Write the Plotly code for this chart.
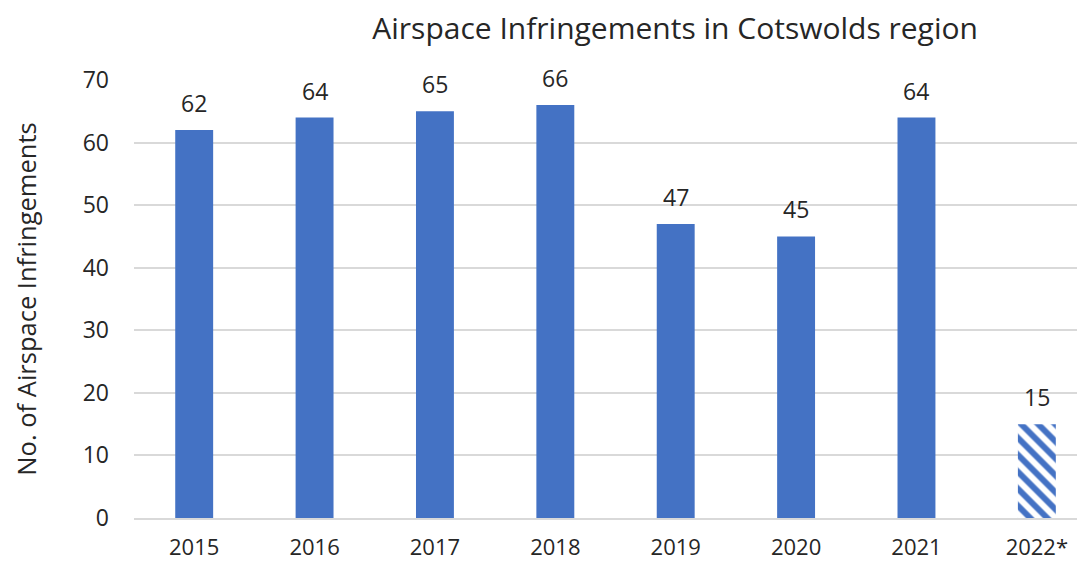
import plotly.graph_objects as go

years = ["2015", "2016", "2017", "2018", "2019", "2020", "2021", "2022*"]
infringements = [62, 64, 65, 66, 47, 45, 64, 15]
y_ticks = [0, 10, 20, 30, 40, 50, 60, 70]

BLUE = "#4472C4"
TEXT = "#262626"
FONT = "Open Sans, Liberation Sans, sans-serif"

# last year is partial -> hatched bar
shapes = ["" if y != "2022*" else "\\" for y in years]

fig = go.Figure(
    go.Bar(
        x=years,
        y=infringements,
        width=0.315,
        marker=dict(
            color=BLUE,
            line=dict(width=0),
            pattern=dict(shape=shapes, fgcolor=BLUE, bgcolor="white",
                         fgopacity=1, size=12, solidity=0.5,
                         fillmode="replace"),
        ),
        hoverinfo="x+y",
    )
)

# value labels above the bars (x as category index)
for i, val in enumerate(infringements):
    fig.add_annotation(
        x=i, y=val, text=str(val), showarrow=False,
        yanchor="bottom", yshift=9,
        font=dict(size=23, color=TEXT, family=FONT),
    )

# page body has an 8px margin, so the figure is 8px smaller than the window
fig.update_layout(
    width=1077,
    height=557,
    margin=dict(l=126, r=0, t=72, b=47),
    paper_bgcolor="white",
    plot_bgcolor="white",
    showlegend=False,
    font=dict(family=FONT, color=TEXT),
    title=dict(
        text="Airspace Infringements in Cotswolds region",
        x=0.569, xanchor="center", xref="paper",
        y=0.964, yanchor="middle", yref="container",
        font=dict(size=30, color=TEXT, family=FONT),
    ),
    xaxis=dict(
        type="category",
        range=[-0.5, 7.4],
        automargin=False,
        showgrid=False,
        showline=True,
        linecolor="#d9d9d9",
        linewidth=2,
        ticks="",
        ticklabelstandoff=9,
        tickfont=dict(size=22, color=TEXT),
    ),
    yaxis=dict(
        range=[0, 70],
        automargin=False,
        tickvals=y_ticks,
        showgrid=True,
        gridcolor="#d9d9d9",
        gridwidth=2,
        zeroline=False,
        showline=False,
        ticks="",
        ticklabelstandoff=24,
        tickfont=dict(size=23, color=TEXT),
        title=dict(text="No. of Airspace Infringements",
                   font=dict(size=25.5, color=TEXT), standoff=38),
    ),
)

fig.write_html("out.html")
